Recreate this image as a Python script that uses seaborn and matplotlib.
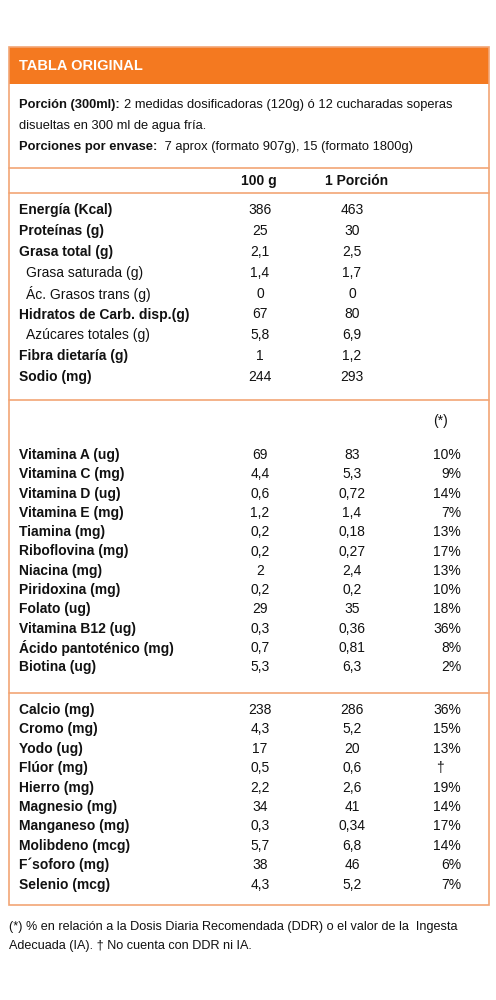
import matplotlib
matplotlib.use("Agg")
import matplotlib.pyplot as plt
import seaborn as sns
from matplotlib.patches import Rectangle

sns.set_theme(style="white")
plt.rcParams['font.family'] = ['Liberation Sans', 'DejaVu Sans']

macro_labels = ["Energía (Kcal)", "Proteínas (g)", "Grasa total (g)", "Grasa saturada (g)",
                "Ác. Grasos trans (g)", "Hidratos de Carb. disp.(g)", "Azúcares totales (g)",
                "Fibra dietaría (g)", "Sodio (mg)"]
macro_bold = [True, True, True, False, False, True, False, True, True]
macro_100 = ["386", "25", "2,1", "1,4", "0", "67", "5,8", "1", "244"]
macro_por = ["463", "30", "2,5", "1,7", "0", "80", "6,9", "1,2", "293"]

vit_labels = ["Vitamina A (ug)", "Vitamina C (mg)", "Vitamina D (ug)", "Vitamina E (mg)",
              "Tiamina (mg)", "Riboflovina (mg)", "Niacina (mg)", "Piridoxina (mg)",
              "Folato (ug)", "Vitamina B12 (ug)", "Ácido pantoténico (mg)", "Biotina (ug)"]
vit_100 = ["69", "4,4", "0,6", "1,2", "0,2", "0,2", "2", "0,2", "29", "0,3", "0,7", "5,3"]
vit_por = ["83", "5,3", "0,72", "1,4", "0,18", "0,27", "2,4", "0,2", "35", "0,36", "0,81", "6,3"]
vit_pct = ["10%", "9%", "14%", "7%", "13%", "17%", "13%", "10%", "18%", "36%", "8%", "2%"]

min_labels = ["Calcio (mg)", "Cromo (mg)", "Yodo (ug)", "Flúor (mg)", "Hierro (mg)",
              "Magnesio (mg)", "Manganeso (mg)", "Molibdeno (mcg)", "F´soforo (mg)", "Selenio (mcg)"]
min_100 = ["238", "4,3", "17", "0,5", "2,2", "34", "0,3", "5,7", "38", "4,3"]
min_por = ["286", "5,2", "20", "0,6", "2,6", "41", "0,34", "6,8", "46", "5,2"]
min_pct = ["36%", "15%", "13%", "†", "19%", "14%", "17%", "14%", "6%", "7%"]

fig = plt.figure(figsize=(4.96, 10), dpi=100)
ax = fig.add_axes([0, 0, 1, 1])
ax.set_xlim(0, 496); ax.set_ylim(1000, 0); ax.axis('off')
r = fig.canvas.get_renderer()

OR = '#f47920'; LN = '#f2a575'; FS = 10; PS = 9.3
ax.add_patch(Rectangle((9, 47), 480, 37, color=OR, lw=0))
ax.add_patch(Rectangle((9, 47), 480, 858, fill=False, ec=LN, lw=1.2))
for y in [168, 193, 400, 693]:
    ax.plot([9, 489], [y, y], color=LN, lw=1.2)
ax.text(19, 66, "TABLA ORIGINAL", color='white', fontsize=10.5, weight='bold', va='center')

def t(x, y, s, bold=False, ha='left', fs=FS):
    return ax.text(x, y, s, fontsize=fs, weight='bold' if bold else 'normal', ha=ha, va='center', color='#111')

def two(y, b, n):
    a = t(19, y, b, True, fs=PS)
    w = a.get_window_extent(r).width
    t(19 + w + 4, y, n, fs=PS)

two(105, "Porción (300ml):", "2 medidas dosificadoras (120g) ó 12 cucharadas soperas")
t(19, 126, "disueltas en 300 ml de agua fría.", fs=PS)
two(147, "Porciones por envase:", " 7 aprox (formato 907g), 15 (formato 1800g)")
t(259, 181, "100 g", True, 'center'); t(357, 181, "1 Porción", True, 'center')

X1, X2, X3 = 260, 352, 461
ys = [210 + 20.9 * i for i in range(len(macro_labels))]
for y, l, b, a, p in zip(ys, macro_labels, macro_bold, macro_100, macro_por):
    t(19 if b else 26, y, l, b); t(X1, y, a, ha='center'); t(X2, y, p, ha='center')
t(440, 421, "(*)", ha='center')
ys = [455 + 19.3 * i for i in range(len(vit_labels))]
for y, l, a, p, c in zip(ys, vit_labels, vit_100, vit_por, vit_pct):
    t(19, y, l, True); t(X1, y, a, ha='center'); t(X2, y, p, ha='center'); t(X3, y, c, ha='right')
ys = [710 + 19.4 * i for i in range(len(min_labels))]
for y, l, a, p, c in zip(ys, min_labels, min_100, min_por, min_pct):
    t(19, y, l, True); t(X1, y, a, ha='center'); t(X2, y, p, ha='center')
    t(440 if c == "†" else X3, y, c, ha='center' if c == "†" else 'right')
t(9, 927, "(*) % en relación a la Dosis Diaria Recomendada (DDR) o el valor de la  Ingesta", fs=9.1)
t(9, 946, "Adecuada (IA). † No cuenta con DDR ni IA.", fs=9.1)
fig.savefig("out.png", dpi=100, facecolor='white')
